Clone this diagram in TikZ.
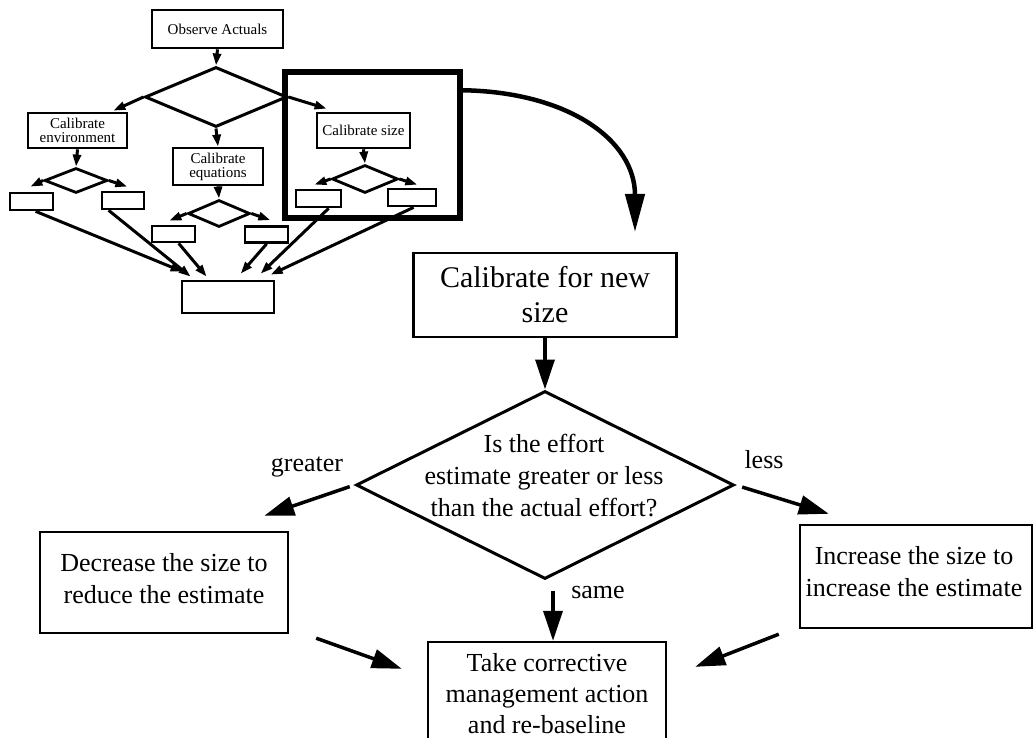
\documentclass[tikz,border=0pt]{standalone}
\usepackage{fontspec}
\setmainfont{Liberation Serif}
\usetikzlibrary{arrows.meta,shapes.geometric,calc}
\begin{document}
\begin{tikzpicture}[x=1pt,y=-1pt,
  sbox/.style={draw, line width=2.7pt, inner sep=0pt, align=center, font=\fontsize{15}{14}\selectfont},
  tbox/.style={draw, line width=2.7pt, inner sep=0pt},
  sdia/.style={draw, diamond, line width=2.8pt, inner sep=0pt},
  bbox/.style={draw, line width=2.4pt, inner sep=0pt},
  btext/.style={align=center, inner sep=0pt, font=\fontsize{26}{32}\selectfont},
  sarr/.style={line width=3pt, -{Triangle[length=12pt,width=8pt]}},
  barr/.style={line width=3.5pt, -{Triangle[length=30pt,width=19pt]}},
  lbl/.style={inner sep=0pt, font=\fontsize{26}{30}\selectfont}
]
\useasboundingbox (0,0) rectangle (1034,738);

% ---------- small overview cluster ----------
\node[sbox, minimum width=131pt, minimum height=38pt] (obs) at (217.5,29) {Observe Actuals};
\node[sdia, line width=3pt, minimum width=142pt, minimum height=60pt] (cD) at (216,97) {};
\node[sbox, minimum width=99pt, minimum height=35pt] (env) at (77.5,130.5) {Calibrate\\environment};
\node[sbox, minimum width=90pt, minimum height=37pt] (eq) at (218,166.5) {Calibrate\\equations};
\node[sbox, minimum width=93pt, minimum height=35pt] (sz) at (363.5,130.5) {Calibrate size};
\node[draw, line width=5.5pt, minimum width=175pt, minimum height=146pt, inner sep=0pt] (sq) at (372.5,145) {};

\node[sdia, minimum width=63pt, minimum height=25pt] (envD) at (76,180.5) {};
\node[sdia, minimum width=62pt, minimum height=27pt] (eqD) at (219,213.5) {};
\node[sdia, minimum width=66pt, minimum height=28pt] (szD) at (365,179) {};

\node[tbox, minimum width=43pt, minimum height=17pt] (envL) at (31.5,201.5) {};
\node[tbox, minimum width=42pt, minimum height=17pt] (envR) at (123,200.5) {};
\node[tbox, minimum width=43pt, minimum height=16pt] (eqL) at (173.5,234) {};
\node[tbox, minimum width=43pt, minimum height=16pt] (eqR) at (266.5,234.5) {};
\node[tbox, minimum width=45pt, minimum height=17pt] (szL) at (318.5,198.5) {};
\node[tbox, minimum width=48pt, minimum height=17pt] (szR) at (412,197.5) {};
\node[tbox, minimum width=92pt, minimum height=32pt] (bot) at (228,297) {};

\draw[sarr] (obs.south) -- (cD.north);
\draw[sarr] (cD.west) -- ($(env.north east)+(-15,-1)$);
\draw[sarr] (cD.south) -- (eq.north);
\draw[sarr] (cD.east) -- ($(sz.north west)+(11,-3)$);
\draw[sarr] (env.south) -- (envD.north);
\draw[sarr] (eq.south) -- (eqD.north);
\draw[sarr] (sz.south) -- (szD.north);

\draw[sarr] (envD.west) -- ($(envL.north east)+(-24,-5)$);
\draw[sarr] (envD.east) -- ($(envR.north east)+(-18,-4)$);
\draw[sarr] (eqD.west) -- ($(eqL.north east)+(-27,-4)$);
\draw[sarr] (eqD.east) -- ($(eqR.north east)+(-19,-5)$);
\draw[sarr] (szD.west) -- ($(szL.north east)+(-28,-4)$);
\draw[sarr] (szD.east) -- ($(szR.north east)+(-20,-3)$);

\draw[sarr] ($(envL.south west)+(27,0)$) -- ($(bot.north west)+(2,-8)$);
\draw[sarr] ($(envR.south west)+(8,0)$) -- ($(bot.north west)+(10,-3)$);
\draw[sarr] ($(eqL.south west)+(28,0)$) -- ($(bot.north west)+(26,-3)$);
\draw[sarr] ($(eqR.south west)+(23,0)$) -- ($(bot.north west)+(60,-6)$);
\draw[sarr] ($(szL.south west)+(34,0)$) -- ($(bot.north west)+(80,-6)$);
\draw[sarr] ($(szR.south west)+(27,0)$) -- ($(bot.north west)+(90,-5)$);

% ---------- main flow ----------
\node[bbox, minimum width=263pt, minimum height=84pt, align=center,
      font=\fontsize{30}{35}\selectfont] (cal) at (545,295) {Calibrate for new\\size};
\coordinate (ctip) at (635,232);
\draw[line width=4.5pt, -{Triangle[length=38pt,width=19pt]}]
  ($(sq.north east)+(0,21)$) .. controls (568,92) and (635,140) .. (ctip);

\node[sdia, line width=3pt, minimum width=378pt, minimum height=188pt] (bigD) at (545,485) {};
\node[btext] (q) at (544,476) {Is the effort\\estimate greater or less\\than the actual effort?};
\draw[barr] (cal.south) -- (bigD.north);

\node[bbox, minimum width=248pt, minimum height=101pt] (dec) at (164,582.5) {};
\node[btext] (dect) at (164,579) {Decrease the size to\\reduce the estimate};
\node[bbox, minimum width=232pt, minimum height=103pt] (inc) at (916,576.5) {};
\node[btext] (inct) at (914,572) {Increase the size to\\increase the estimate};
\node[bbox, minimum width=238pt, minimum height=116pt] (take) at (547,700) {};
\node[btext, font=\fontsize{26}{31}\selectfont] (taket) at (547,694) {Take corrective\\management action\\and re-baseline};

\node[lbl] (lg) at (307,467) {greater};
\node[lbl] (ll) at (764,460) {less};
\node[lbl] (ls) at (598,592) {same};

\draw[barr, shorten <=5pt] (bigD.west) -- ($(dec.north east)+(-25,-15)$);
\draw[barr, shorten <=7pt] (bigD.east) -- ($(inc.north west)+(30,-10)$);
\draw[barr] ($(bigD.south)+(8,10)$) -- ($(take.north)+(6,0)$);
\draw[barr] ($(dec.south east)+(27,4)$) -- ($(take.north west)+(-25,28)$);
\draw[barr] ($(inc.south west)+(-20,5)$) -- ($(take.north east)+(28,26)$);
\end{tikzpicture}
\end{document}
